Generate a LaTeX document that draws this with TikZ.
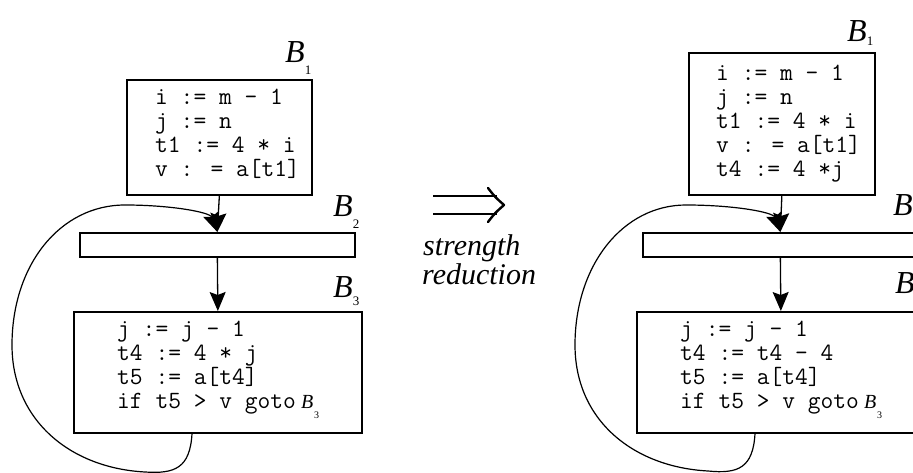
\documentclass[tikz,border=0pt]{standalone}
\usepackage{fontspec}
\setmainfont{Liberation Serif}
\usetikzlibrary{arrows.meta,calc}
\newcommand\Blab[2]{{\itshape B}\raisebox{-#2pt}{\fontsize{13}{13}\selectfont #1}}
\newcommand\Bsub[1]{{\rmfamily\itshape\fontsize{20}{20}\selectfont B}\hspace{1pt}\raisebox{-10pt}{\rmfamily\fontsize{10}{10}\selectfont #1}}
\begin{document}
\begin{tikzpicture}[x=1pt,y=-1pt,
  blk/.style={draw, line width=1.7pt, inner sep=0pt, anchor=north west},
  code/.style={anchor=north west, inner sep=0pt, align=left, font=\ttfamily\fontsize{24.8}{24}\selectfont},
  blab/.style={anchor=base west, inner sep=0pt, font=\fontsize{32}{32}\selectfont},
  slab/.style={anchor=base west, inner sep=0pt, font=\itshape\fontsize{30}{30}\selectfont},
  flow/.style={line width=1.3pt, -{Stealth[length=19pt,width=16pt,inset=3pt]}},
  loop/.style={line width=1.2pt, -{Stealth[length=19pt,width=16pt,inset=3pt]}},
  impl/.style={line width=2.4pt, line cap=round, line join=round}]
\useasboundingbox (0,0) rectangle (913,473);
\fill[white] (0,0) rectangle (913,473);
\clip (0,0) rectangle (913,473);
% ---------------- left diagram ----------------
\node[blk, minimum width=185pt, minimum height=115pt] (L1) at (126,79) {};
\node[code] (L1t) at (155,87.2) {\strut i := m - 1\\j := n\\t1 := 4 * i\\v : = a[t1]};
\node[blk, minimum width=275pt, minimum height=24pt] (L2) at (79,232) {};
\node[blk, minimum width=288pt, minimum height=121pt] (L3) at (73,311) {};
\node[code] (L3t) at (117,319.2) {\strut j := j - 1\\t4 := 4 * j\\t5 := a[t4]\\if t5 > v goto\hspace{5pt}\Bsub{3}};
\node[blab] (L1l) at (285,63) {\Blab{1}{12}};
\node[blab] (L2l) at (333,217) {\Blab{2}{12}};
\node[blab] (L3l) at (333,297) {\Blab{3}{9}};
\draw[flow] (L1.south) -- (L2.north);
\draw[flow] (L2.south) -- (L3.north);
\draw[loop] ($(L3.south west)+(119,0)$) .. controls (190,468) and (175,474) .. (145,472)
  .. controls (70,468) and (12,420) .. (12,345)
  .. controls (12,265) and (60,205) .. (125,205)
  .. controls (170,205) and (210,212) .. (L2.north);
% ---------------- middle ----------------
\coordinate (ia) at (433,196);
\coordinate (ib) at (497,196);
\coordinate (ic) at (433,214);
\coordinate (id) at (497,214);
\coordinate (itip) at (504,205);
\draw[impl, line cap=butt] (ia) -- (ib) (ic) -- (id);
\draw[impl] (488,188) .. controls (495,197) .. (itip) .. controls (495,213) .. (488,222);
\node[slab] (sr1) at (423,255) {strength};
\node[slab] (sr2) at (422,284) {reduction};
% ---------------- right diagram ----------------
\begin{scope}[xshift=563pt]
\node[blk, minimum width=186pt, minimum height=142pt] (R1) at (125,52) {};
\node[code] (R1t) at (153,63.2) {\strut i := m - 1\\j := n\\t1 := 4 * i\\v : = a[t1]\\t4 := 4 *j};
\node[blk, minimum width=275pt, minimum height=24pt] (R2) at (79,232) {};
\node[blk, minimum width=288pt, minimum height=121pt] (R3) at (73,311) {};
\node[code] (R3t) at (117,319.2) {\strut j := j - 1\\t4 := t4 - 4\\t5 := a[t4]\\if t5 > v goto\hspace{5pt}\Bsub{3}};
\node[blab] (R1l) at (284,42) {\Blab{1}{4}};
\node[blab] (R2l) at (330,216) {\Blab{2}{12}};
\node[blab] (R3l) at (332,293) {\Blab{3}{9}};
\draw[flow] (R1.south) -- (R2.north);
\draw[flow] (R2.south) -- (R3.north);
\draw[loop] ($(R3.south west)+(119,0)$) .. controls (190,468) and (175,474) .. (145,471)
  .. controls (70,467) and (12,420) .. (12,345)
  .. controls (12,265) and (60,205) .. (123,205)
  .. controls (170,205) and (210,212) .. (R2.north);
\end{scope}
\end{tikzpicture}
\end{document}
